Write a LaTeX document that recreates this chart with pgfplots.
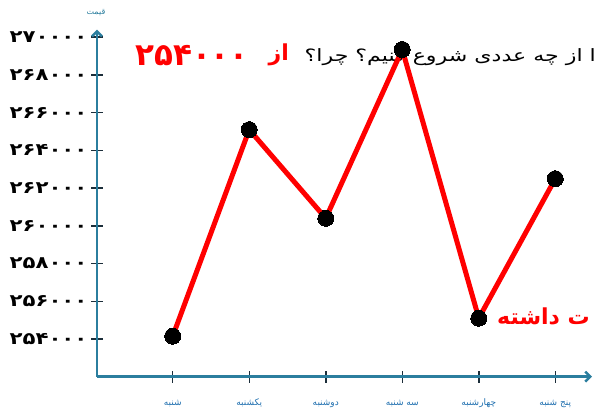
\documentclass[border=0pt]{standalone}
\usepackage{pgfplots}
\pgfplotsset{compat=1.18}
\usepackage{fontspec}
\setmainfont{DejaVu Sans}
\newfontfamily\arabicfont[Script=Arabic]{DejaVu Sans}
\newfontfamily\widearabic[Script=Arabic, FakeStretch=1.3]{DejaVu Sans}
\newfontfamily\tickfont[FakeStretch=1.25]{DejaVu Sans}
\TeXXeTstate=1
\usetikzlibrary{arrows.meta}
\definecolor{axisc}{HTML}{2B7E9E}
\definecolor{tickc}{HTML}{1C2E3A}
\definecolor{xlab}{HTML}{1F6FAF}
\begin{document}
\begin{tikzpicture}[x=1pt,y=1pt]
\useasboundingbox (0,0) rectangle (597,414);
\clip (0,0) rectangle (597,414);
% fragments of text around the chart
\node[anchor=east, inner sep=0] at (596,357) {\widearabic\fontsize{17}{17}\selectfont\beginR ا از چه عددی شروع کنیم؟ چرا؟\endR};
\node[anchor=east, inner sep=0, text=red] at (289,359) {\arabicfont\bfseries\fontsize{22}{22}\selectfont\beginR از\endR};
\node[anchor=east, inner sep=0, text=red] at (249,358) {\arabicfont\bfseries\fontsize{31}{31}\selectfont ۲۵۴۰۰۰};
\node[anchor=west, inner sep=0, text=red] at (497,98) {\arabicfont\bfseries\fontsize{22}{22}\selectfont\beginR ت داشته\endR};
\node[inner sep=0, text=axisc] at (96,401) {\arabicfont\fontsize{8}{8}\selectfont\beginR قیمت\endR};
\begin{axis}[
  at={(97pt,37.3pt)}, anchor=south west,
  scale only axis, width=495pt, height=347pt,
  xmin=-0.99, xmax=5.48, ymin=252000, ymax=270400,
  axis lines=left,
  axis line style={axisc, line width=2.5pt, -{Straight Barb[length=5pt,width=10pt]}},
  xtick={0,1,2,3,4,5},
  xticklabels={{\beginR شنبه\endR},{\beginR یکشنبه\endR},{\beginR دوشنبه\endR},{\beginR سه شنبه\endR},{\beginR چهارشنبه\endR},{\beginR پنج شنبه\endR}},
  xticklabel style={font=\arabicfont\fontsize{9}{9}\selectfont, text=xlab, text height=8pt, text depth=3pt, yshift=-11pt},
  ytick={254000,256000,258000,260000,262000,264000,266000,268000,270000},
  yticklabels={۲۵۴۰۰۰,۲۵۶۰۰۰,۲۵۸۰۰۰,۲۶۰۰۰۰,۲۶۲۰۰۰,۲۶۴۰۰۰,۲۶۶۰۰۰,۲۶۸۰۰۰,۲۷۰۰۰۰},
  yticklabel style={font=\tickfont\bfseries\fontsize{17}{17}\selectfont, text=black},
  scaled y ticks=false,
  tick align=center, major tick length=12pt,
  tick style={tickc, line width=1.5pt},
  clip=false,
]
\addplot[red, line width=5pt, line join=round, mark=*, mark size=8pt,
  mark options={black, fill=black, line width=0pt}]
  coordinates {(0,254150) (1,265100) (2,260400) (3,269350) (4,255100) (5,262500)};
\end{axis}
\end{tikzpicture}
\end{document}
